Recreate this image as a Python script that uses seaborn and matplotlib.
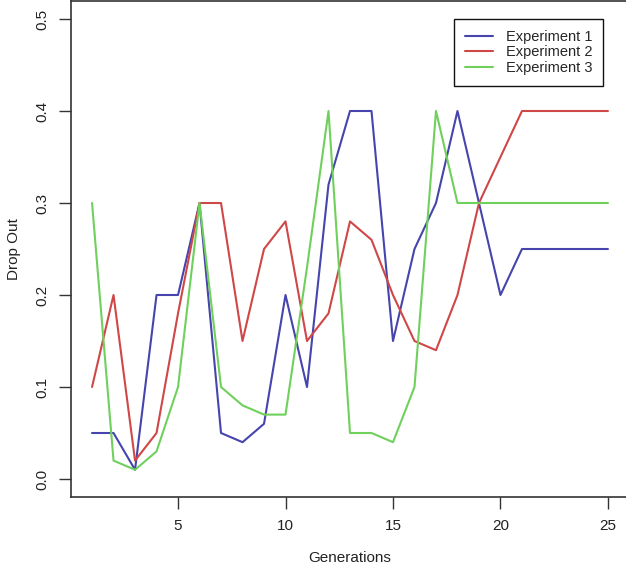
import matplotlib
matplotlib.use("Agg")
import matplotlib.pyplot as plt
import numpy as np
import pandas as pd
import seaborn as sns

# Drop-out rate per generation for three experiments
generations = list(range(1, 26))
experiment_1 = [0.05, 0.05, 0.01, 0.20, 0.20, 0.30, 0.05, 0.04, 0.06, 0.20,
                0.10, 0.32, 0.40, 0.40, 0.15, 0.25, 0.30, 0.40, 0.30, 0.20,
                0.25, 0.25, 0.25, 0.25, 0.25]
experiment_2 = [0.10, 0.20, 0.02, 0.05, 0.18, 0.30, 0.30, 0.15, 0.25, 0.28,
                0.15, 0.18, 0.28, 0.26, 0.20, 0.15, 0.14, 0.20, 0.30, 0.35,
                0.40, 0.40, 0.40, 0.40, 0.40]
experiment_3 = [0.30, 0.02, 0.01, 0.03, 0.10, 0.30, 0.10, 0.08, 0.07, 0.07,
                0.23, 0.40, 0.05, 0.05, 0.04, 0.10, 0.40, 0.30, 0.30, 0.30,
                0.30, 0.30, 0.30, 0.30, 0.30]
series_names = ["Experiment 1", "Experiment 2", "Experiment 3"]
x_ticks = [5, 10, 15, 20, 25]
y_ticks = [0.0, 0.1, 0.2, 0.3, 0.4, 0.5]

df = pd.concat([
    pd.DataFrame({"Generations": generations, "Drop Out": vals, "series": name})
    for name, vals in zip(series_names, [experiment_1, experiment_2, experiment_3])
], ignore_index=True)

sns.set_theme(style="ticks")
plt.rcParams["font.family"] = ["Liberation Sans", "DejaVu Sans"]

palette = {"Experiment 1": "#4545ad", "Experiment 2": "#cf4747", "Experiment 3": "#6fd05c"}

fig = plt.figure(figsize=(6.26, 5.70), dpi=100)
ax = fig.add_axes([71.4 / 626, 1 - 497.4 / 570, 557.2 / 626, 496.8 / 570])

sns.lineplot(data=df, x="Generations", y="Drop Out", hue="series",
             palette=palette, linewidth=1.5, ax=ax, legend=False)

# R-style axis ranges (4% padding on each side)
ax.set_xlim(1 - 0.04 * 24, 25 + 0.04 * 24)
ax.set_ylim(-0.02, 0.52)
ax.set_xticks(x_ticks)
ax.set_xticklabels([str(t) for t in x_ticks], fontsize=11, color="#222222")
ax.set_yticks(y_ticks)
ax.set_yticklabels([f"{t:.1f}" for t in y_ticks], fontsize=11, color="#222222",
                   rotation=90, va="center")
ax.tick_params(axis="both", direction="out", length=8.5, width=1.0, color="#333333")
ax.tick_params(axis="x", pad=7)
ax.tick_params(axis="y", pad=7)

for side in ["left", "bottom", "top", "right"]:
    ax.spines[side].set_visible(True)
    ax.spines[side].set_color("#333333")
    ax.spines[side].set_linewidth(1.2)

ax.set_xlabel("Generations", fontsize=11, color="#222222", labelpad=13)
ax.set_ylabel("Drop Out", fontsize=11, color="#222222", labelpad=11)

handles = [plt.Line2D([], [], color=palette[n], linewidth=1.5) for n in series_names]
leg = ax.legend(handles, series_names, loc="upper right",
                bbox_to_anchor=(0.954, 0.963), borderaxespad=0,
                fontsize=10.5, handlelength=1.9, handletextpad=0.85,
                labelspacing=0.1, borderpad=0.75, fancybox=False,
                framealpha=1, edgecolor="#111111")
leg.get_frame().set_linewidth(1.0)

fig.savefig("out.png", dpi=100)
